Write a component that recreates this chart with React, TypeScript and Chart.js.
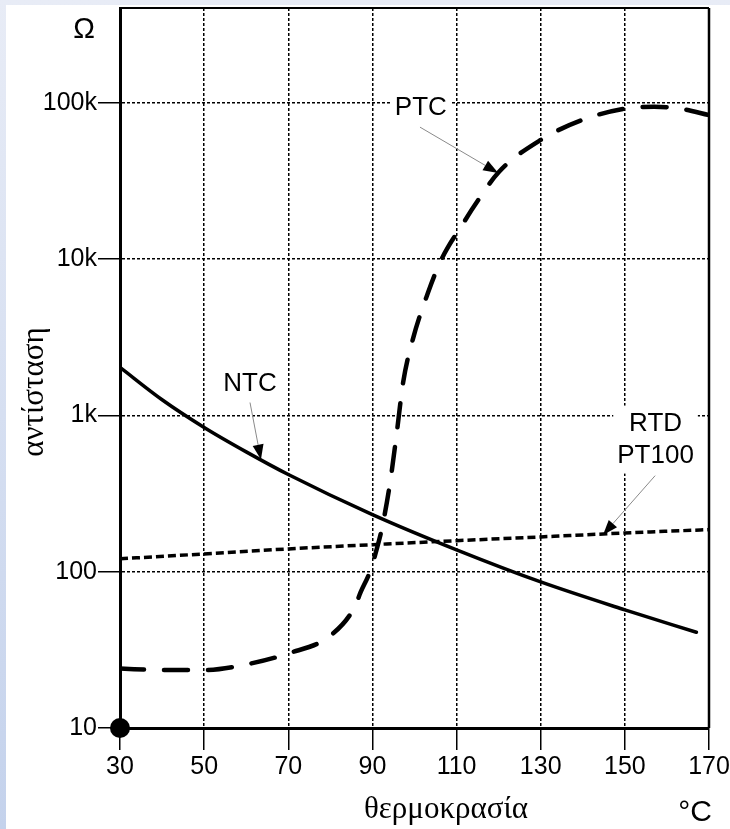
import React, { useEffect, useRef } from 'react';
import { Chart, registerables } from 'chart.js';

Chart.register(...registerables);

// ---- data ----
const xTicks = [30, 50, 70, 90, 110, 130, 150, 170];
const yTicks = [10, 100, 1000, 10000, 100000];
const yTickLabels = ['10', '100', '1k', '10k', '100k'];

const ntcTemps = [30, 40, 50, 60, 70, 90, 110, 130, 150, 167];
const ntcOhms = [2030, 1260, 838, 585, 419, 232, 138, 86, 57, 41];

const ptcTemps = [30, 40, 50, 60, 70, 80, 86, 87.1, 89.4, 91.1, 92.3, 94.2, 95.8, 97.3, 99.6, 103.2, 106.1, 108, 111.3, 114, 120, 130, 140, 150, 157, 163, 170];
const ptcOhms = [24, 23.5, 23.5, 25.5, 30, 39, 61, 73, 100, 142, 192, 372, 780, 1630, 3070, 6100, 9600, 12000, 16500, 21500, 36000, 58000, 78000, 92000, 94500, 92000, 83500];

const rtdTemps = [30, 50, 70, 90, 110, 130, 150, 170];
const rtdOhms = [121, 130, 140, 149, 158, 167, 177, 186];

// annotations (data coordinates)
const noteTexts = [['NTC'], ['PTC'], ['RTD', 'PT100']];
const noteAt = [[60.9, 1600], [101.5, 93000], [157.3, 701]];
const arrowFrom = [[60.9, 1210], [101.3, 70000], [157.2, 412]];
const arrowTo = [[63.5, 522], [119.9, 35600], [144.8, 172]];

const SANS = '"Liberation Sans", Arial, sans-serif';
const SERIF = '"Liberation Serif", "Times New Roman", serif';

function drawArrow(ctx: CanvasRenderingContext2D, x1: number, y1: number, x2: number, y2: number) {
  const ang = Math.atan2(y2 - y1, x2 - x1);
  const L = 15, W = 5.5;
  const bx = x2 - L * Math.cos(ang), by = y2 - L * Math.sin(ang);
  ctx.save();
  ctx.strokeStyle = '#8a8a8a';
  ctx.lineWidth = 1;
  ctx.beginPath();
  ctx.moveTo(x1, y1);
  ctx.lineTo(bx, by);
  ctx.stroke();
  ctx.fillStyle = '#000';
  ctx.beginPath();
  ctx.moveTo(x2, y2);
  ctx.lineTo(bx - W * Math.sin(ang), by + W * Math.cos(ang));
  ctx.lineTo(bx + W * Math.sin(ang), by - W * Math.cos(ang));
  ctx.closePath();
  ctx.fill();
  ctx.restore();
}

const decor = {
  id: 'decor',
  afterDatasetsDraw(chart: any) {
    const { ctx, chartArea: a, scales } = chart;
    const xs = scales.x, ys = scales.y;
    ctx.save();
    // top and right frame
    ctx.strokeStyle = '#000';
    ctx.lineWidth = 2;
    ctx.beginPath();
    ctx.moveTo(a.left, a.top);
    ctx.lineTo(a.right, a.top);
    ctx.stroke();
    ctx.lineWidth = 2.5;
    ctx.beginPath();
    ctx.moveTo(a.right, a.top);
    ctx.lineTo(a.right, a.bottom);
    ctx.stroke();

    // origin dot
    ctx.fillStyle = '#000';
    ctx.beginPath();
    ctx.arc(xs.getPixelForValue(30), ys.getPixelForValue(10), 10, 0, Math.PI * 2);
    ctx.fill();

    // annotations
    const lineH = 32;
    ctx.font = '26px ' + SANS;
    noteTexts.forEach((lines, i) => {
      const cx = xs.getPixelForValue(noteAt[i][0]);
      const cy = ys.getPixelForValue(noteAt[i][1]);
      const w = Math.max(...lines.map((l) => ctx.measureText(l).width));
      const h = lines.length * lineH;
      ctx.fillStyle = '#fff';
      ctx.fillRect(cx - w / 2 - 4, cy - h / 2 - 2, w + 8, h + 4);
      ctx.fillStyle = '#000';
      ctx.textAlign = 'center';
      ctx.textBaseline = 'middle';
      lines.forEach((l, j) => ctx.fillText(l, cx, cy - h / 2 + lineH * (j + 0.5)));
      drawArrow(
        ctx,
        xs.getPixelForValue(arrowFrom[i][0]), ys.getPixelForValue(arrowFrom[i][1]),
        xs.getPixelForValue(arrowTo[i][0]), ys.getPixelForValue(arrowTo[i][1])
      );
    });

    // axis titles
    ctx.fillStyle = '#000';
    ctx.textAlign = 'center';
    ctx.textBaseline = 'middle';
    ctx.font = '29px ' + SANS;
    ctx.fillText('Ω', 78, 25);
    ctx.font = '30px ' + SANS;
    ctx.fillText('°C', 689, 808);
    ctx.font = '31px ' + SERIF;
    ctx.fillText('θερμοκρασία', 440, 805);
    ctx.save();
    ctx.translate(29, 387);
    ctx.rotate(-Math.PI / 2);
    ctx.fillText('αντίσταση', 0, 0);
    ctx.restore();
    ctx.restore();
  },
};

export default function App() {
  const ref = useRef<HTMLCanvasElement>(null);
  useEffect(() => {
    const tickFont = { family: SANS, size: 25 };
    const chart = new Chart(ref.current as HTMLCanvasElement, {
      type: 'line',
      data: {
        datasets: [
          {
            label: 'NTC',
            data: ntcTemps.map((t, i) => ({ x: t, y: ntcOhms[i] })),
            borderColor: '#000',
            borderWidth: 3.5,
            pointRadius: 0,
            cubicInterpolationMode: 'monotone',
            borderCapStyle: 'round',
          },
          {
            label: 'PTC',
            data: ptcTemps.map((t, i) => ({ x: t, y: ptcOhms[i] })),
            borderColor: '#000',
            borderWidth: 4.5,
            borderDash: [24, 20],
            borderCapStyle: 'round',
            pointRadius: 0,
            cubicInterpolationMode: 'monotone',
          },
          {
            label: 'RTD PT100',
            data: rtdTemps.map((t, i) => ({ x: t, y: rtdOhms[i] })),
            borderColor: '#000',
            borderWidth: 3.5,
            borderDash: [8, 4],
            pointRadius: 0,
            cubicInterpolationMode: 'monotone',
          },
        ],
      },
      options: {
        animation: false,
        responsive: false,
        devicePixelRatio: 1,
        layout: { padding: { left: 0, right: 21, top: 3, bottom: 0 } },
        plugins: { legend: { display: false }, tooltip: { enabled: false } },
        scales: {
          x: {
            type: 'linear',
            min: 30,
            max: 170,
            afterBuildTicks: (s: any) => {
              s.ticks = xTicks.map((v) => ({ value: v }));
            },
            afterFit: (s: any) => {
              s.height = 101;
              s.paddingLeft = 0;
              s.paddingRight = 0;
            },
            ticks: {
              autoSkip: false,
              maxRotation: 0,
              color: '#000',
              font: tickFont,
              padding: 2,
              callback: (v: any) => String(v),
            },
            grid: {
              color: '#000',
              lineWidth: 1.5,
              drawTicks: true,
              tickLength: 22,
              tickWidth: 1.5,
              tickColor: '#000',
              tickBorderDash: [],
            },
            border: { display: true, color: '#000', width: 3, dash: [3, 2] },
          },
          y: {
            type: 'logarithmic',
            min: 10,
            max: 405000,
            afterBuildTicks: (s: any) => {
              s.ticks = yTicks.map((v) => ({ value: v }));
            },
            afterFit: (s: any) => {
              s.width = 114;
              s.paddingTop = 0;
              s.paddingBottom = 0;
            },
            ticks: {
              autoSkip: false,
              color: '#000',
              font: tickFont,
              padding: 1,
              callback: (v: any) => {
                const i = yTicks.indexOf(Number(v));
                return i >= 0 ? yTickLabels[i] : '';
              },
            },
            grid: {
              color: '#000',
              lineWidth: 1.5,
              drawTicks: true,
              tickLength: 22,
              tickWidth: 1.5,
              tickColor: '#000',
              tickBorderDash: [],
            },
            border: { display: true, color: '#000', width: 3, dash: [3, 2] },
          },
        },
      } as any,
      plugins: [decor],
    });
    return () => chart.destroy();
  }, []);

  return (
    <div
      style={{
        position: 'fixed',
        left: 0,
        top: 0,
        width: 730,
        height: 829,
        background: 'linear-gradient(to bottom, #e8ecf6, #c4d2ec)',
      }}
    >
      <div style={{ position: 'absolute', left: 6, top: 5, width: 724, height: 824, background: '#fff' }}>
        <canvas ref={ref} width={724} height={824} style={{ display: 'block', width: 724, height: 824 }} />
      </div>
    </div>
  );
}
